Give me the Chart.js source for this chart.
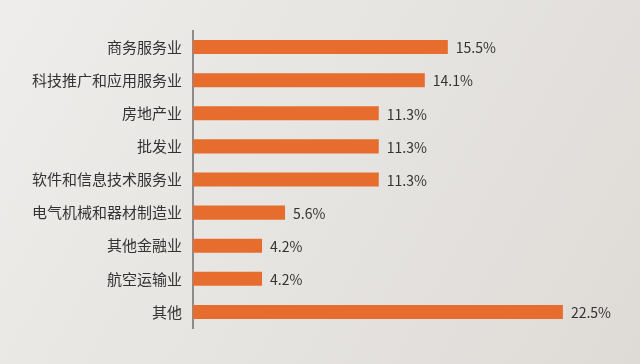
<!DOCTYPE html>
<html lang="zh">
<head>
    <meta charset="UTF-8">
    <title>行业分布</title>
    <script src="https://cdn.jsdelivr.net/npm/chart.js"></script>
    <style>
        html, body { margin: 0; padding: 0; }
        body { width: 640px; height: 364px; overflow: hidden; }
    </style>
</head>
<body>
    <canvas id="chart" width="640" height="364"></canvas>
    <script>
        const industries = ["商务服务业", "科技推广和应用服务业", "房地产业", "批发业", "软件和信息技术服务业", "电气机械和器材制造业", "其他金融业", "航空运输业", "其他"];
        const shares = [15.5, 14.1, 11.3, 11.3, 11.3, 5.6, 4.2, 4.2, 22.5];

        const fontFamily = '"Noto Sans CJK SC", "Noto Sans", sans-serif';

        // background gradient
        const bgPlugin = {
            id: "bg",
            beforeDraw(chart) {
                const c = chart.ctx;
                const g = c.createLinearGradient(0, 0, chart.width, chart.height);
                g.addColorStop(0, "#eeedeb");
                g.addColorStop(1, "#dedbd7");
                c.save();
                c.fillStyle = g;
                c.fillRect(0, 0, chart.width, chart.height);
                c.restore();
            }
        };

        // value labels to the right of each bar
        const valueLabels = {
            id: "valueLabels",
            afterDatasetsDraw(chart) {
                const c = chart.ctx;
                const meta = chart.getDatasetMeta(0);
                c.save();
                c.font = "14px " + fontFamily;
                c.fillStyle = "#333333";
                c.textAlign = "left";
                c.textBaseline = "middle";
                meta.data.forEach((bar, i) => {
                    c.fillText(shares[i].toFixed(1) + "%", bar.x + 8, bar.y + 1);
                });
                c.restore();
            }
        };

        const ctx = document.getElementById("chart").getContext("2d");
        new Chart(ctx, {
            type: "bar",
            data: {
                labels: industries,
                datasets: [{
                    data: shares,
                    backgroundColor: "#e66d2d",
                    borderWidth: 0,
                    barPercentage: 0.85,
                    categoryPercentage: 0.5,
                }],
            },
            options: {
                indexAxis: "y",
                responsive: false,
                animation: false,
                layout: { padding: { top: 30.5, bottom: 35.5, left: 0, right: 36 } },
                plugins: {
                    legend: { display: false },
                    tooltip: { enabled: false },
                },
                scales: {
                    x: {
                        min: 0,
                        max: 25,
                        display: false,
                    },
                    y: {
                        afterFit: (s) => { s.width = 193; },
                        grid: { display: false, drawTicks: false },
                        border: { display: true, color: "#8c8c8c", width: 2 },
                        ticks: {
                            color: "#333333",
                            padding: 11,
                            font: { size: 15, family: fontFamily },
                        },
                    },
                },
            },
            plugins: [bgPlugin, valueLabels],
        });
    </script>
</body>
</html>
